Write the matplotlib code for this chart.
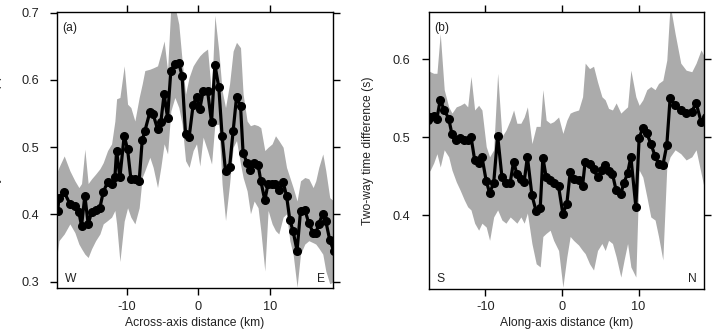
import numpy as np
import matplotlib
matplotlib.use("Agg")
import matplotlib.pyplot as plt

plt.rcParams['font.family'] = ['Liberation Sans', 'DejaVu Sans']
plt.rcParams['axes.unicode_minus'] = False

# (a) across-axis profile
x_a = [-19.6, -19.44, -18.70, -17.91, -17.21, -16.65, -16.28, -15.82, -15.36, -14.88,
       -14.32, -13.72, -13.26, -12.65, -12.09, -11.63, -11.39, -10.93, -10.33, -9.86,
       -9.40, -8.84, -8.24, -7.82, -7.45, -6.75, -6.29, -5.68, -5.22, -4.76,
       -4.28, -3.82, -3.26, -2.71, -2.25, -1.77, -1.27, -0.71, -0.24, 0.22,
       0.68, 1.30, 1.86, 2.32, 2.87, 3.33, 3.81, 4.37, 4.87, 5.34,
       5.90, 6.26, 6.82, 7.29, 7.80, 8.35, 8.73, 9.29, 9.75, 10.31,
       10.78, 11.24, 11.84, 12.32, 12.78, 13.24, 13.79, 14.27, 14.87, 15.43,
       16.03, 16.40, 16.82, 17.38, 17.80, 18.35, 18.91]
twt_a = [0.405, 0.425, 0.433, 0.416, 0.413, 0.403, 0.383, 0.428, 0.386, 0.403,
         0.406, 0.410, 0.433, 0.448, 0.446, 0.455, 0.495, 0.455, 0.517, 0.497,
         0.453, 0.453, 0.450, 0.510, 0.524, 0.552, 0.549, 0.527, 0.537, 0.579,
         0.544, 0.614, 0.624, 0.625, 0.606, 0.520, 0.515, 0.563, 0.575, 0.557,
         0.583, 0.584, 0.537, 0.623, 0.589, 0.517, 0.464, 0.470, 0.524, 0.574,
         0.562, 0.491, 0.477, 0.466, 0.476, 0.474, 0.450, 0.421, 0.446, 0.446,
         0.445, 0.436, 0.448, 0.428, 0.392, 0.375, 0.346, 0.405, 0.407, 0.387,
         0.373, 0.372, 0.386, 0.401, 0.390, 0.362, 0.346]
upper_a = [0.465, 0.470, 0.487, 0.465, 0.450, 0.440, 0.446, 0.497, 0.446, 0.453,
           0.460, 0.468, 0.477, 0.495, 0.505, 0.539, 0.572, 0.574, 0.621, 0.564,
           0.559, 0.539, 0.574, 0.594, 0.614, 0.616, 0.618, 0.621, 0.639, 0.658,
           0.614, 0.710, 0.710, 0.683, 0.629, 0.579, 0.604, 0.621, 0.629, 0.636,
           0.641, 0.646, 0.579, 0.696, 0.643, 0.584, 0.559, 0.594, 0.643, 0.656,
           0.648, 0.579, 0.539, 0.532, 0.534, 0.532, 0.529, 0.495, 0.500, 0.505,
           0.517, 0.510, 0.500, 0.470, 0.455, 0.440, 0.420, 0.450, 0.455, 0.453,
           0.440, 0.450, 0.470, 0.490, 0.465, 0.425, 0.420]
lower_a = [0.345, 0.361, 0.371, 0.386, 0.373, 0.356, 0.349, 0.341, 0.336, 0.349,
           0.361, 0.371, 0.386, 0.391, 0.396, 0.406, 0.386, 0.330, 0.390, 0.410,
           0.396, 0.386, 0.410, 0.455, 0.465, 0.485, 0.470, 0.440, 0.470, 0.505,
           0.490, 0.554, 0.574, 0.559, 0.534, 0.480, 0.470, 0.495, 0.505, 0.472,
           0.515, 0.495, 0.475, 0.534, 0.534, 0.445, 0.391, 0.445, 0.500, 0.510,
           0.475, 0.455, 0.435, 0.401, 0.420, 0.410, 0.376, 0.316, 0.406, 0.386,
           0.376, 0.371, 0.396, 0.401, 0.361, 0.341, 0.292, 0.341, 0.356, 0.361,
           0.358, 0.356, 0.350, 0.341, 0.316, 0.297, 0.300]

# (b) along-axis profile
x_b = [-17.5, -17.17, -16.73, -16.30, -15.87, -15.35, -14.77, -14.34, -13.78, -13.26,
       -12.74, -12.29, -11.86, -11.38, -10.86, -10.43, -9.87, -9.43, -8.90, -8.38,
       -7.82, -7.30, -6.74, -6.30, -5.87, -5.35, -4.92, -4.50, -3.91, -3.35,
       -2.83, -2.48, -2.05, -1.53, -1.08, -0.43, 0.13, 0.65, 1.08, 1.52,
       2.18, 2.70, 3.04, 3.61, 4.13, 4.65, 5.22, 5.65, 6.09, 6.60,
       7.08, 7.69, 8.12, 8.57, 9.00, 9.65, 10.08, 10.56, 11.08, 11.60,
       12.16, 12.61, 13.17, 13.69, 14.12, 14.77, 15.51, 16.21, 16.95, 17.51,
       18.16, 18.81]
twt_b = [0.522, 0.526, 0.527, 0.524, 0.548, 0.535, 0.524, 0.504, 0.496, 0.499,
         0.497, 0.497, 0.501, 0.471, 0.467, 0.475, 0.444, 0.429, 0.441, 0.502,
         0.449, 0.441, 0.442, 0.469, 0.453, 0.447, 0.443, 0.475, 0.426, 0.405,
         0.409, 0.474, 0.449, 0.445, 0.441, 0.437, 0.402, 0.415, 0.455, 0.446,
         0.445, 0.438, 0.469, 0.466, 0.459, 0.449, 0.458, 0.464, 0.457, 0.453,
         0.432, 0.428, 0.442, 0.454, 0.475, 0.411, 0.499, 0.512, 0.505, 0.492,
         0.476, 0.466, 0.464, 0.490, 0.550, 0.541, 0.535, 0.531, 0.533, 0.544,
         0.520, 0.526]
upper_b = [0.586, 0.584, 0.582, 0.582, 0.633, 0.561, 0.539, 0.531, 0.539, 0.541,
           0.544, 0.539, 0.578, 0.535, 0.541, 0.535, 0.488, 0.475, 0.484, 0.582,
           0.501, 0.509, 0.522, 0.535, 0.518, 0.518, 0.526, 0.539, 0.492, 0.514,
           0.514, 0.561, 0.522, 0.518, 0.520, 0.526, 0.505, 0.522, 0.531, 0.533,
           0.535, 0.552, 0.595, 0.588, 0.591, 0.571, 0.552, 0.548, 0.537, 0.535,
           0.544, 0.531, 0.535, 0.539, 0.586, 0.552, 0.541, 0.548, 0.561, 0.565,
           0.561, 0.569, 0.573, 0.599, 0.670, 0.633, 0.595, 0.586, 0.584, 0.595,
           0.612, 0.599]
lower_b = [0.454, 0.458, 0.467, 0.479, 0.462, 0.484, 0.475, 0.458, 0.443, 0.432,
           0.420, 0.411, 0.407, 0.390, 0.381, 0.390, 0.385, 0.368, 0.398, 0.407,
           0.394, 0.390, 0.398, 0.394, 0.390, 0.398, 0.390, 0.403, 0.364, 0.338,
           0.334, 0.373, 0.377, 0.381, 0.368, 0.355, 0.308, 0.347, 0.373, 0.368,
           0.362, 0.355, 0.351, 0.338, 0.330, 0.355, 0.364, 0.355, 0.368, 0.364,
           0.347, 0.321, 0.343, 0.364, 0.334, 0.321, 0.458, 0.449, 0.424, 0.398,
           0.394, 0.373, 0.343, 0.462, 0.475, 0.484, 0.479, 0.471, 0.475, 0.484,
           0.454, 0.424]

fig = plt.figure(figsize=(7.13, 3.35), dpi=100)
ax1 = fig.add_axes([0.080, 0.139, 0.387, 0.825])
ax2 = fig.add_axes([0.601, 0.138, 0.387, 0.825])

panels = [
    (ax1, x_a, twt_a, upper_a, lower_a, (-19.7, 18.8), (0.29, 0.701),
     [0.3, 0.4, 0.5, 0.6, 0.7], "(a)", "W", "E", "Across-axis distance (km)"),
    (ax2, x_b, twt_b, upper_b, lower_b, (-17.4, 18.6), (0.306, 0.66),
     [0.4, 0.5, 0.6], "(b)", "S", "N", "Along-axis distance (km)"),
]

txt = "#222222"
for ax, x, y, up, lo, xl, yl, yt, tag, left_lab, right_lab, xlab in panels:
    ax.fill_between(x, lo, up, color="#ababab", lw=0)
    ax.plot(x, y, color="black", lw=2.3, marker="o", ms=5.5)
    ax.set_xlim(xl)
    ax.set_ylim(yl)
    ax.set_xticks([-10, 0, 10])
    ax.set_yticks(yt)
    ax.set_yticklabels([f"{v:.1f}" for v in yt])
    ax.tick_params(direction="out", length=5, width=1, labelsize=9.2,
                   labelcolor=txt, top=True, right=True, pad=4)
    ax.tick_params(axis="y", pad=8)
    for s in ax.spines.values():
        s.set_linewidth(1)
    ax.set_xlabel(xlab, fontsize=8.7, labelpad=3, color=txt)
    ax.set_ylabel("Two-way time difference (s)", fontsize=8.7, color=txt)
    ax.yaxis.set_label_coords(-0.198, 0.5)
    ax.text(0.02, 0.965, tag, transform=ax.transAxes, fontsize=8.7, va="top", color=txt)
    ax.text(0.028, 0.025, left_lab, transform=ax.transAxes, fontsize=8.7, color=txt)
    ax.text(0.972, 0.025, right_lab, transform=ax.transAxes, fontsize=8.7,
            ha="right", color=txt)

fig.savefig("out.png", dpi=100)
